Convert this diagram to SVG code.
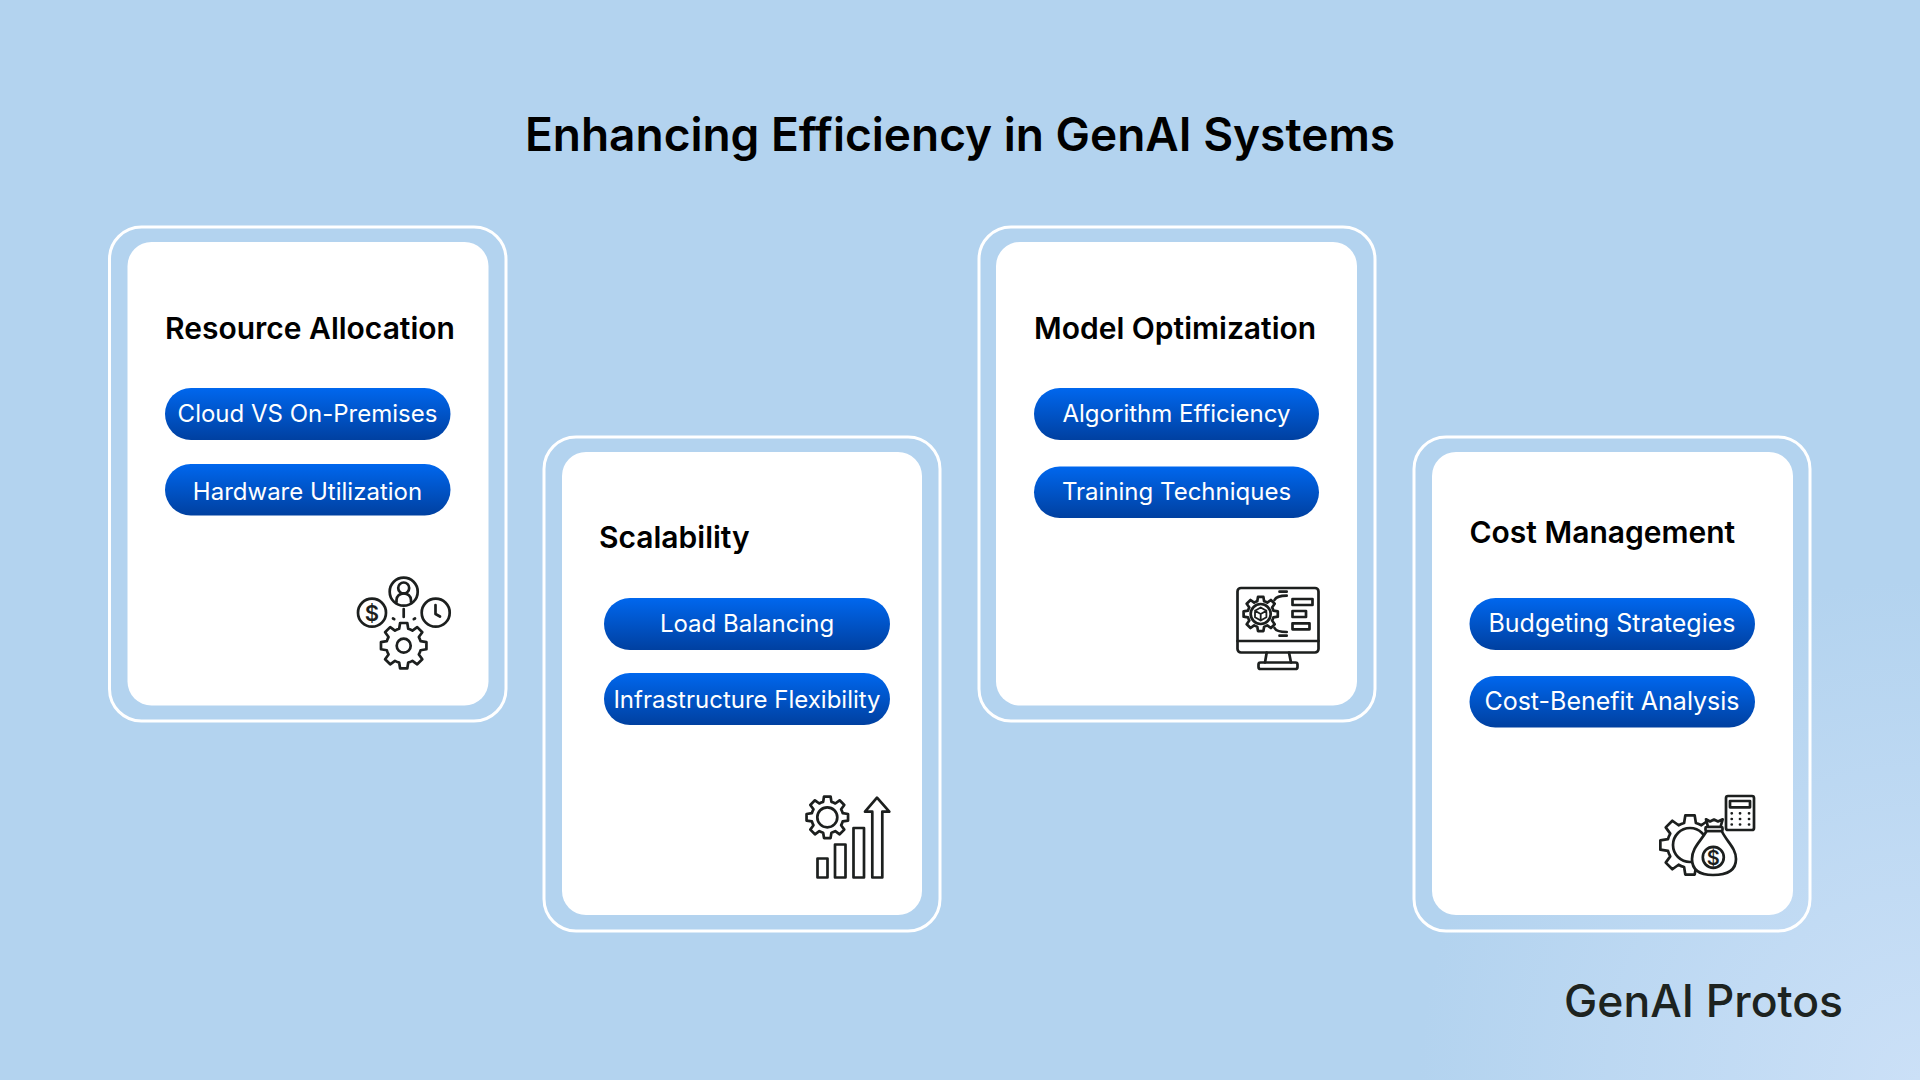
<svg xmlns="http://www.w3.org/2000/svg" xmlns:xlink="http://www.w3.org/1999/xlink" width="1920" height="1080" viewBox="0 0 1920 1080">
<defs>
<radialGradient id="bg" gradientUnits="userSpaceOnUse" cx="1920" cy="1080" r="500"><stop offset="0" stop-color="#cbe0f7"/><stop offset="1" stop-color="#b3d3ef"/></radialGradient>
<linearGradient id="pill" x1="0" y1="0" x2="0" y2="1"><stop offset="0" stop-color="#0067ee"/><stop offset="1" stop-color="#0040a0"/></linearGradient>
<path id="gear" d="M-19.7,-73.4L-15.6,-98.8L15.6,-98.8L19.7,-73.4A76,76 0 0 1 38,-65.8L58.8,-80.9L80.9,-58.8L65.8,-38A76,76 0 0 1 73.4,-19.7L98.8,-15.6L98.8,15.6L73.4,19.7A76,76 0 0 1 65.8,38L80.9,58.8L58.8,80.9L38,65.8A76,76 0 0 1 19.7,73.4L15.6,98.8L-15.6,98.8L-19.7,73.4A76,76 0 0 1 -38,65.8L-58.8,80.9L-80.9,58.8L-65.8,38A76,76 0 0 1 -73.4,19.7L-98.8,15.6L-98.8,-15.6L-73.4,-19.7A76,76 0 0 1 -65.8,-38L-80.9,-58.8L-58.8,-80.9L-38,-65.8A76,76 0 0 1 -19.7,-73.4Z" vector-effect="non-scaling-stroke"/>
</defs>
<style>
.outer{fill:none;stroke:#fff;stroke-width:3}
.inner{fill:#fff}
.pillr{fill:url(#pill)}
.h{font-family:Inter,"Liberation Sans",sans-serif;font-weight:600;fill:#000}
.card{font-size:30px}
.p{font-family:Inter,"Liberation Sans",sans-serif;font-weight:400;font-size:24px;fill:#fff;text-anchor:middle}
.p25{font-size:25px}
.ic{fill:none;stroke:#1c1f1e;stroke-width:2.7;stroke-linecap:round;stroke-linejoin:round}
.w{fill:#fff}
.d{font-family:Inter,"Liberation Sans",sans-serif;font-weight:600;fill:#1c1f1e;text-anchor:middle;stroke:none}
</style>
<rect width="1920" height="1080" fill="url(#bg)"/>
<text id="title" class="h" x="960" y="151" font-size="46" text-anchor="middle">Enhancing Efficiency in GenAI Systems</text>

<g id="card-resource">
<rect class="outer" x="109.5" y="227" width="396.5" height="494" rx="32"/>
<rect class="inner" x="127.5" y="242" width="361" height="463.5" rx="24"/>
<text class="h card" x="165" y="339">Resource Allocation</text>
<rect class="pillr" x="165" y="388" width="285.5" height="52" rx="26"/>
<text class="p" x="307.5" y="422">Cloud VS On-Premises</text>
<rect class="pillr" x="165" y="464" width="285.5" height="51.5" rx="25.75"/>
<text class="p" x="307.5" y="500">Hardware Utilization</text>
<g class="ic">
<circle cx="403.7" cy="591.7" r="14"/><circle cx="403.7" cy="588" r="5.5"/><path d="M396.5,602V600A7.2,6.5 0 0 1 411,600V602"/>
<circle cx="372" cy="612.7" r="14"/><text class="d" x="372" y="620.5" font-size="22">$</text>
<circle cx="435.7" cy="612.7" r="14"/><path d="M435.5,605V614L440,616.5"/>
<path d="M403.7,609V617M393,618.5L394.2,619.2M415,618.5L413.8,619.2"/>
<use xlink:href="#gear" href="#gear" transform="translate(403.7,645.7) scale(.23)"/>
<circle cx="403.7" cy="645.7" r="7"/>
</g>
</g>

<g id="card-scalability">
<rect class="outer" x="544" y="437" width="396" height="494" rx="32"/>
<rect class="inner" x="562" y="452" width="360" height="463" rx="24"/>
<text class="h card" x="599" y="548">Scalability</text>
<rect class="pillr" x="604" y="598" width="286" height="52" rx="26"/>
<text class="p" x="747" y="632">Load Balancing</text>
<rect class="pillr" x="604" y="673" width="286" height="52" rx="26"/>
<text class="p" x="747" y="708">Infrastructure Flexibility</text>
<g class="ic">
<use xlink:href="#gear" href="#gear" transform="translate(827.3,817.3) scale(.21)"/>
<circle cx="827.3" cy="817.3" r="10"/>
<rect x="817.5" y="858.5" width="10" height="19"/>
<rect x="835" y="844.5" width="10.5" height="33"/>
<rect x="853.5" y="828" width="10.5" height="49.5"/>
<path d="M872.3,877.5V811.7H865L877,797.7L889.3,811.7H882.3V877.5Z"/>
</g>
</g>

<g id="card-model">
<rect class="outer" x="979" y="227" width="396" height="494" rx="32"/>
<rect class="inner" x="996" y="242" width="361" height="463.5" rx="24"/>
<text class="h card" x="1034" y="339">Model Optimization</text>
<rect class="pillr" x="1034" y="388" width="285" height="52" rx="26"/>
<text class="p" x="1176.5" y="422">Algorithm Efficiency</text>
<rect class="pillr" x="1034" y="466.5" width="285" height="51.5" rx="25.75"/>
<text class="p" x="1176.5" y="500">Training Techniques</text>
<g class="ic">
<rect x="1237.5" y="588" width="81" height="64.5" rx="3.5"/>
<path d="M1237.5,641H1318.5"/>
<path d="M1266.7,652.5L1265,662.5M1289,652.5L1291,662.5"/>
<rect x="1258.5" y="662.5" width="39" height="6.5" rx="2"/>
<use xlink:href="#gear" href="#gear" transform="translate(1260.7,614) scale(.173)"/>
<circle cx="1260.7" cy="614" r="10"/>
<path d="M1260.7,607.5L1266.4,610.8V617.2L1260.7,620.5L1255,617.2V610.8ZM1255,610.8L1260.7,614L1266.4,610.8M1260.7,614V620.5" stroke-width="1.8"/>
<rect x="1292.5" y="599" width="20" height="6"/>
<rect x="1292.5" y="611" width="13.5" height="6"/>
<rect x="1292.5" y="623.3" width="17" height="6"/>
<path d="M1279.5,591.7H1286.7M1274.5,600C1276,597 1279,595.7 1286.7,595.7M1279.5,635.7H1286.7M1274.5,628C1276,631 1279,632 1286.7,632"/>
</g>
</g>

<g id="card-cost">
<rect class="outer" x="1414" y="437" width="396" height="494" rx="32"/>
<rect class="inner" x="1432" y="452" width="361" height="463" rx="24"/>
<text class="h card" x="1469.5" y="543">Cost Management</text>
<rect class="pillr" x="1469.5" y="598" width="285.5" height="52" rx="26"/>
<text class="p p25" x="1612" y="632">Budgeting Strategies</text>
<rect class="pillr" x="1469.5" y="676" width="285.5" height="51.5" rx="25.75"/>
<text class="p p25" x="1612" y="710">Cost-Benefit Analysis</text>
<g class="ic">
<use xlink:href="#gear" href="#gear" transform="translate(1690,845) scale(.3)"/>
<circle cx="1690" cy="845" r="17"/>
<path class="w" d="M1706.7,831C1700,842 1692,848 1692,859C1692,870 1700,875 1713,875C1728,875 1736,870 1736,859C1736,848 1727,842 1721.7,831Z"/>
<path class="w" d="M1706,819.3L1710,821.5L1714,819.5L1718,821.5L1722.7,819.3L1720.5,827H1708Z"/>
<rect class="w" x="1705.5" y="827" width="17" height="4" rx="1"/>
<circle cx="1713.3" cy="857.3" r="10.5"/>
<text class="d" x="1713.3" y="864.5" font-size="20">$</text>
<rect class="w" x="1726" y="796" width="28" height="34" rx="2"/>
<rect x="1730" y="801" width="20" height="6.3"/>
<path d="M1731.7,813.3h.1M1740,813.3h.1M1749,813.3h.1M1731.7,819h.1M1740,819h.1M1749,819h.1M1731.7,824.5h.1M1740,824.5h.1M1749,824.5h.1"/>
</g>
</g>

<text id="logo" x="1564" y="1017" font-family="Inter,'Liberation Sans',sans-serif" font-weight="500" font-size="44.5" fill="#1d2320">GenAI Protos</text>
<g id="connectors"/>
</svg>
